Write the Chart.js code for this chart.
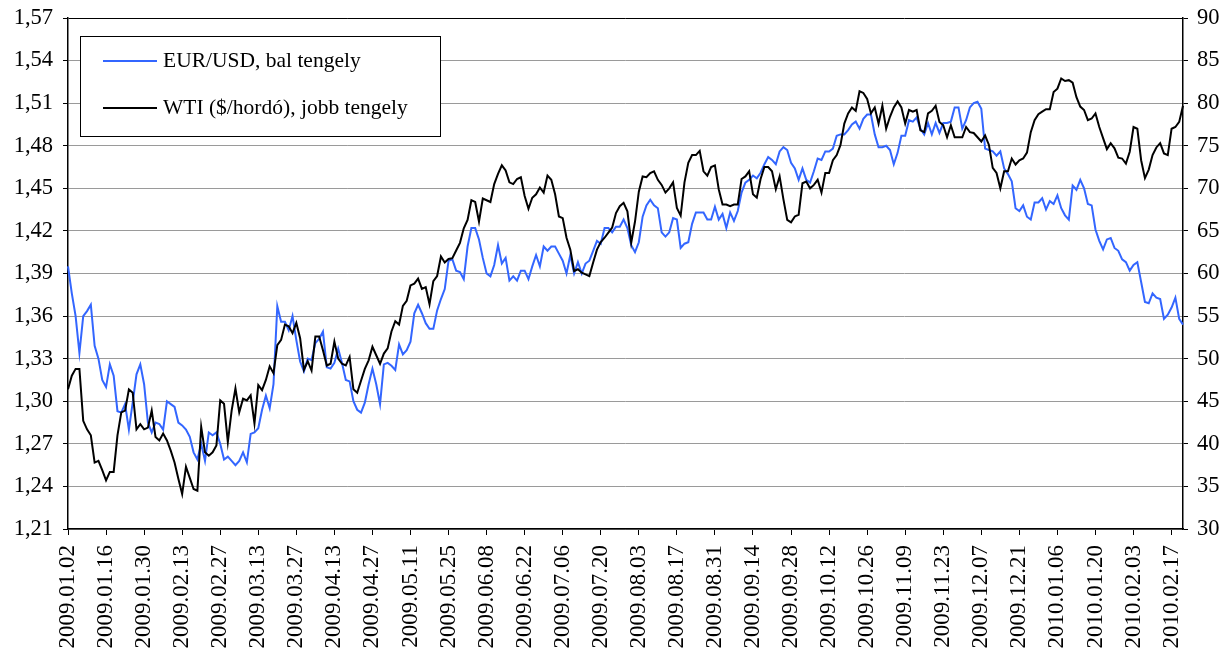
<!DOCTYPE html>
<html lang="hu">

<head>
    <meta charset="UTF-8">
    <title>EUR/USD és WTI</title>
    <style>
        body { margin: 0; background: #fff; }
    </style>
</head>

<body>
    <canvas id="myChart" width="1227" height="654"></canvas>
    <script src="https://cdn.jsdelivr.net/npm/chart.js"></script>
    <script>
        // x axis labels, one for every 10th trading day
        const tickLabels = [
            '2009.01.02', '2009.01.16', '2009.01.30', '2009.02.13', '2009.02.27',
            '2009.03.13', '2009.03.27', '2009.04.13', '2009.04.27', '2009.05.11',
            '2009.05.25', '2009.06.08', '2009.06.22', '2009.07.06', '2009.07.20',
            '2009.08.03', '2009.08.17', '2009.08.31', '2009.09.14', '2009.09.28',
            '2009.10.12', '2009.10.26', '2009.11.09', '2009.11.23', '2009.12.07',
            '2009.12.21', '2010.01.06', '2010.01.20', '2010.02.03', '2010.02.17'
        ];

        // EUR/USD daily rate (left axis)
        const eurUsd = [
            1.395, 1.376, 1.36, 1.334, 1.36, 1.3635, 1.368, 1.339, 1.33, 1.315,
            1.31, 1.326, 1.318, 1.293, 1.292, 1.298, 1.28, 1.299, 1.319, 1.326,
            1.312, 1.285, 1.278, 1.285, 1.284, 1.28, 1.30, 1.298, 1.296, 1.285,
            1.283, 1.28, 1.275, 1.264, 1.259, 1.27, 1.258, 1.278, 1.276, 1.278,
            1.27, 1.259, 1.261, 1.258, 1.255, 1.258, 1.264, 1.257, 1.277, 1.278,
            1.281, 1.294, 1.304, 1.295, 1.312, 1.367, 1.356, 1.356, 1.35, 1.36,
            1.343, 1.328, 1.321, 1.33, 1.329, 1.341, 1.344, 1.349, 1.324, 1.323,
            1.327, 1.337, 1.327, 1.315, 1.314, 1.30, 1.294, 1.292, 1.299, 1.312,
            1.323, 1.312, 1.298, 1.326, 1.327, 1.325, 1.322, 1.34, 1.333, 1.336,
            1.342, 1.362, 1.368, 1.362, 1.355, 1.351, 1.351, 1.364, 1.372, 1.379,
            1.399, 1.40, 1.392, 1.391, 1.386, 1.409, 1.422, 1.422, 1.414, 1.401,
            1.39, 1.388, 1.396, 1.41, 1.397, 1.401, 1.385, 1.388, 1.385, 1.392,
            1.392, 1.386, 1.395, 1.403, 1.395, 1.409, 1.406, 1.409, 1.409, 1.404,
            1.399, 1.39, 1.403, 1.39, 1.398, 1.39, 1.397, 1.399, 1.406, 1.413,
            1.411, 1.422, 1.422, 1.419, 1.423, 1.423, 1.428, 1.422, 1.41, 1.405,
            1.412, 1.43, 1.438, 1.442, 1.438, 1.436, 1.419, 1.416, 1.419, 1.429,
            1.428, 1.408, 1.411, 1.412, 1.425, 1.433, 1.433, 1.433, 1.428, 1.428,
            1.437, 1.428, 1.432, 1.422, 1.433, 1.427, 1.434, 1.447, 1.454, 1.456,
            1.459, 1.457, 1.461, 1.467, 1.472, 1.47, 1.467, 1.476, 1.479, 1.477,
            1.468, 1.464, 1.456, 1.464, 1.456, 1.454, 1.462, 1.471, 1.47, 1.476,
            1.476, 1.478, 1.487, 1.488, 1.488, 1.491, 1.495, 1.497, 1.492, 1.499,
            1.502, 1.502, 1.488, 1.479, 1.479, 1.48, 1.477, 1.467, 1.475, 1.487,
            1.487, 1.498, 1.497, 1.50, 1.492, 1.488, 1.496, 1.488, 1.496, 1.489,
            1.496, 1.496, 1.497, 1.507, 1.507, 1.492, 1.498, 1.507, 1.51, 1.511,
            1.506, 1.478, 1.477, 1.476, 1.473, 1.476, 1.464, 1.46, 1.455, 1.436,
            1.434, 1.438, 1.43, 1.428, 1.44, 1.44, 1.443, 1.435, 1.441, 1.439,
            1.445, 1.436, 1.431, 1.428, 1.452, 1.449, 1.456, 1.45, 1.439, 1.438,
            1.421, 1.413, 1.407, 1.414, 1.415, 1.408, 1.406, 1.40, 1.398, 1.392,
            1.396, 1.398, 1.384, 1.37, 1.369, 1.376, 1.373, 1.372, 1.358, 1.361,
            1.366, 1.373, 1.358, 1.354
        ];

        // WTI crude price, $/barrel (right axis)
        const wti = [
            46.4, 48, 48.8, 48.8, 42.7, 41.7, 41, 37.8, 38, 36.9,
            35.7, 36.7, 36.7, 41, 43.7, 43.9, 46.4, 46, 41.7, 42.3,
            41.7, 41.9, 43.9, 40.8, 40.4, 41.2, 40.4, 39.2, 37.8, 35.9,
            34.1, 37.3, 36, 34.7, 34.5, 42, 39, 38.6, 39, 39.8,
            45.1, 44.7, 40.2, 43.9, 46.5, 43.7, 45.3, 45.1, 45.7, 42.4,
            46.9, 46.3, 47.5, 49.1, 48.3, 51.6, 52.2, 54, 53.8, 53,
            54.2, 52.4, 48.7, 49.7, 48.6, 52.6, 52.6, 51, 49.2, 49.4,
            52, 50, 49.4, 49.2, 50.2, 46.4, 46, 47.4, 48.8, 49.8,
            51.4, 50.4, 49.4, 50.6, 51.2, 53.2, 54.4, 54, 56.2, 56.8,
            58.6, 58.8, 59.4, 58.2, 58.4, 56.4, 59.1, 59.7, 62, 61.3,
            61.7, 61.8, 62.7, 63.6, 65.3, 66.3, 68.6, 68.4, 66.1, 68.8,
            68.6, 68.4, 70.5, 71.7, 72.7, 72.1, 70.7, 70.5, 71.1, 71.3,
            69.1, 67.6, 68.9, 69.3, 70.1, 69.5, 71.5, 71, 69.3, 66.7,
            66.5, 64.2, 62.8, 60.3, 60.5, 60.1, 59.9, 59.7, 61.3, 62.8,
            63.7, 64.2, 64.8, 65.4, 67.1, 67.9, 68.3, 67.3, 63.6, 66.1,
            69.6, 71.4, 71.3, 71.8, 72, 71, 70.4, 69.5, 70, 70.7,
            67.7, 66.8, 70.7, 73, 73.9, 73.9, 74.4, 72, 71.5, 72.5,
            72.7, 69.9, 68.1, 68.1, 67.9, 68.1, 68.1, 71.1, 71.4, 72,
            69.3, 68.9, 71.1, 72.5, 72.5, 72, 69.9, 71.4, 68.7, 66.3,
            66, 66.7, 66.9, 70.6, 70.8, 70, 70.4, 71, 69.5, 71.8,
            71.8, 73.3, 73.9, 75.1, 77.6, 78.8, 79.5, 79.1, 81.4, 81.2,
            80.5, 78.8, 79.5, 77.6, 79.7, 77, 78.4, 79.5, 80.2, 79.5,
            77.6, 79.2, 79, 79.2, 76.8, 76.6, 78.8, 79.1, 79.7, 77.8,
            77.4, 76, 77.4, 76, 76, 76, 77.2, 76.6, 76.5, 76,
            75.5, 76.2, 75.1, 72.4, 71.8, 70, 72, 72, 73.5, 72.8,
            73.3, 73.5, 74.2, 76.6, 78, 78.7, 79, 79.3, 79.3, 81.3,
            81.7, 82.9, 82.6, 82.7, 82.4, 80.7, 79.6, 79.2, 78, 78.2,
            78.8, 77.2, 75.9, 74.6, 75.3, 74.7, 73.6, 73.5, 72.9, 74.3,
            77.2, 77, 73.3, 71.2, 72.2, 73.9, 74.8, 75.3, 74.1, 73.9,
            77, 77.2, 77.8, 79.7
        ];

        const fontFamily = "'Liberation Serif', 'Times New Roman', serif";

        // legend box drawn inside the plot area, Excel style
        const boxLegend = {
            id: 'boxLegend',
            afterDraw(chart) {
                const { ctx, chartArea } = chart;
                const x = chartArea.left + 12;
                const y = chartArea.top + 18;
                const w = 360;
                const h = 100;
                ctx.save();
                ctx.fillStyle = '#fff';
                ctx.fillRect(x, y, w, h);
                ctx.strokeStyle = '#000';
                ctx.lineWidth = 1;
                ctx.strokeRect(x + 0.5, y + 0.5, w, h);
                ctx.font = '21.5px ' + fontFamily;
                ctx.textBaseline = 'middle';
                ctx.fillStyle = '#000';
                chart.data.datasets.forEach((ds, i) => {
                    const ly = y + 25 + i * 47;
                    ctx.strokeStyle = ds.borderColor;
                    ctx.lineWidth = 2;
                    ctx.beginPath();
                    ctx.moveTo(x + 23, ly);
                    ctx.lineTo(x + 77, ly);
                    ctx.stroke();
                    ctx.fillText(ds.label, x + 83, ly);
                });
                ctx.restore();
            }
        };

        // fixed axis sizes so the plot area sits where the original has it
        function fixVertical(width) {
            return (scale) => {
                scale.width = width;
                scale.paddingTop = 0;
                scale.paddingBottom = 0;
            };
        }

        const ctx = document.getElementById('myChart').getContext('2d');
        const chart = new Chart(ctx, {
            type: 'line',
            data: {
                labels: eurUsd.map((_, i) => i),
                datasets: [{
                    label: 'EUR/USD, bal tengely',
                    data: eurUsd,
                    borderColor: '#3366ff',
                    borderWidth: 2,
                    pointRadius: 0,
                    yAxisID: 'y',
                    order: 2
                }, {
                    label: 'WTI ($/hordó), jobb tengely',
                    data: wti,
                    borderColor: '#000000',
                    borderWidth: 2,
                    pointRadius: 0,
                    yAxisID: 'y1',
                    order: 1
                }]
            },
            options: {
                responsive: false,
                animation: false,
                layout: { padding: { top: 18 } },
                plugins: {
                    legend: { display: false },
                    tooltip: { enabled: false }
                },
                scales: {
                    x: {
                        offset: false,
                        afterFit: (scale) => {
                            scale.height = 125;
                            scale.paddingLeft = 0;
                            scale.paddingRight = 0;
                        },
                        grid: {
                            drawOnChartArea: false,
                            tickLength: 6,
                            tickColor: '#000'
                        },
                        border: { color: '#000', width: 1.5 },
                        ticks: {
                            autoSkip: false,
                            minRotation: 90,
                            maxRotation: 90,
                            padding: 10,
                            color: '#000',
                            font: { family: fontFamily, size: 23 },
                            callback: (val, idx) => idx % 10 === 0 ? tickLabels[idx / 10] : null
                        }
                    },
                    y: {
                        position: 'left',
                        min: 1.21,
                        max: 1.57,
                        afterFit: fixVertical(68),
                        grid: {
                            color: (c) => c.tick && c.tick.value >= 1.569 ? '#000' : '#9a9a9a',
                            tickColor: '#000',
                            tickLength: 5
                        },
                        border: { color: '#000', width: 1.5 },
                        ticks: {
                            stepSize: 0.03,
                            padding: 10,
                            color: '#000',
                            font: { family: fontFamily, size: 22.5 },
                            callback: (v) => v.toFixed(2).replace('.', ',')
                        }
                    },
                    y1: {
                        position: 'right',
                        min: 30,
                        max: 90,
                        afterFit: fixVertical(44),
                        grid: {
                            drawOnChartArea: false,
                            tickColor: '#000',
                            tickLength: 5
                        },
                        border: { color: '#000', width: 1.5 },
                        ticks: {
                            stepSize: 5,
                            padding: 9,
                            color: '#000',
                            font: { family: fontFamily, size: 22.5 }
                        }
                    }
                }
            },
            plugins: [boxLegend]
        });
    </script>
</body>

</html>
